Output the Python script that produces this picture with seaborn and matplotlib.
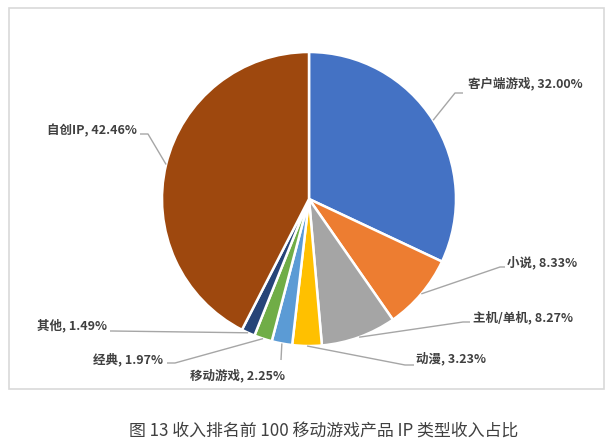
import numpy as np
import matplotlib
matplotlib.use("Agg")
import matplotlib.pyplot as plt
import seaborn as sns
from matplotlib.patches import Rectangle

# Data
categories = ["客户端游戏", "小说", "主机/单机", "动漫", "移动游戏", "经典", "其他", "自创IP"]
shares = [32.00, 8.33, 8.27, 3.23, 2.25, 1.97, 1.49, 42.46]
colors = ["#4472C4", "#ED7D31", "#A5A5A5", "#FFC000", "#5B9BD5", "#70AD47", "#264478", "#9E480E"]
caption = "图 13 收入排名前 100 移动游戏产品 IP 类型收入占比"

sns.set_theme(style="white")
plt.rcParams['font.family'] = ['Noto Sans CJK SC', 'DejaVu Sans']

W, H = 613, 445
fig = plt.figure(figsize=(W / 100, H / 100), dpi=100)
ax = fig.add_axes([0, 0, 1, 1])

# pixel helper (y measured from top)
def px(x, y):
    return x, H - y

cx, cy = px(309, 199)
r = 147

ax.pie(shares, colors=colors, startangle=90, counterclock=False,
       center=(cx, cy), radius=r,
       wedgeprops=dict(edgecolor="white", linewidth=1.8))

# label layout: ha, text x, text y, elbow x, elbow y, end x (pixels)
layout = [
    ("left", 468, 83, 455, 93, 463),
    ("left", 507, 263, 500, 267, 505),
    ("left", 473, 318, 463, 322, 470),
    ("left", 416, 359, 405, 365, 414),
    ("center", 237, 375, 281, 360, 281),
    ("right", 163, 360, 175, 363, 167),
    ("right", 107, 326, 112, 331, 110),
    ("right", 137, 131, 148, 134, 140),
]

total = sum(shares)
cum = np.cumsum([0] + shares)
for i, (name, val) in enumerate(zip(categories, shares)):
    mid = (cum[i] + val / 2) / total * 360
    ang = np.deg2rad(90 - mid)
    sx, sy = cx + r * np.cos(ang), cy + r * np.sin(ang)
    ha, tx, ty, ex, ey, endx = layout[i]
    ex, ey = px(ex, ey)
    endx, _ = px(endx, 0)
    ax.plot([sx, ex, endx], [sy, ey, ey], color="#A6A6A6", lw=1, solid_capstyle="butt")
    ax.text(*px(tx, ty), f"{name}, {val:.2f}%", ha=ha, va="center",
            fontsize=9, fontweight="bold", color="#404040")

# chart frame
x0, y0 = px(9, 389)
ax.add_patch(Rectangle((x0, y0), 604 - 9, 389 - 8, fill=False,
                       edgecolor="#D9D9D9", lw=1.2))

ax.text(*px(324, 432), caption, ha="center", va="center",
        fontsize=12.2, color="#404040")

ax.set_xlim(0, W)
ax.set_ylim(0, H)
ax.set_aspect("equal")
ax.axis("off")

plt.savefig("out.png", dpi=100)
